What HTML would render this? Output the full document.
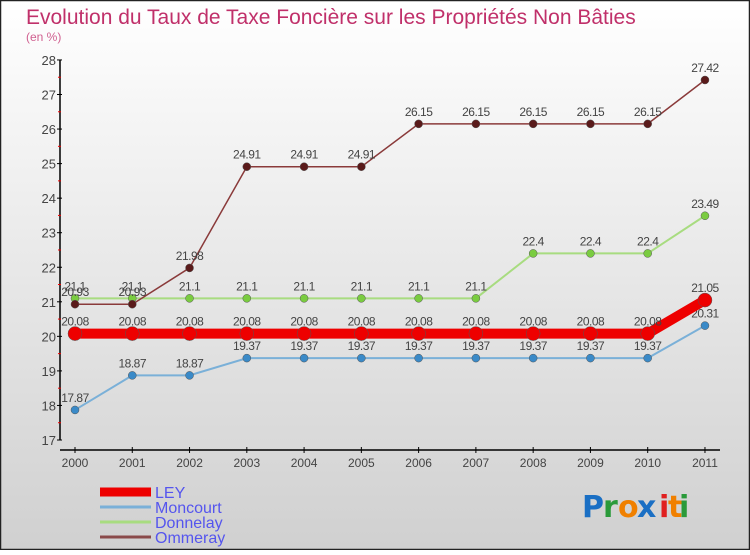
<!DOCTYPE html>
<html><head><meta charset="utf-8"><style>
body{margin:0;width:750px;height:550px;overflow:hidden;font-family:"Liberation Sans",sans-serif}
</style></head><body>
<svg id="chart" width="750" height="550" xmlns="http://www.w3.org/2000/svg" font-family="Liberation Sans, sans-serif">
<defs><linearGradient id="bg" x1="0" y1="0" x2="0" y2="1"><stop offset="0" stop-color="#ffffff"/><stop offset="1" stop-color="#d0d0d0"/></linearGradient></defs>
<rect x="0.5" y="0.5" width="749" height="549" fill="url(#bg)" stroke="#222" stroke-width="1.5"/>
<text x="26" y="24" font-size="21" fill="#c0306a">Evolution du Taux de Taxe Foncière sur les Propriétés Non Bâties</text>
<text x="26" y="41" font-size="12" fill="#d06090">(en %)</text>
<g id="axes"></g><g id="series"></g><g id="legend"></g>
<g font-size="30" font-weight="bold" font-family="DejaVu Sans, sans-serif">
<text x="582" y="517" fill="#1a6fc4">P</text><text x="603" y="517" fill="#2a9a3a">r</text><text x="618" y="517" fill="#f08000">o</text><text x="637" y="517" fill="#1a6fc4">x</text><text x="659" y="517" fill="#e02020">i</text><text x="668" y="517" fill="#f08000">t</text><text x="679" y="517" fill="#2a9a3a">i</text>
</g>
</svg>
<script>
const years=["2000","2001","2002","2003","2004","2005","2006","2007","2008","2009","2010","2011"];
const ley=[20.08,20.08,20.08,20.08,20.08,20.08,20.08,20.08,20.08,20.08,20.08,21.05];
const moncourt=[17.87,18.87,18.87,19.37,19.37,19.37,19.37,19.37,19.37,19.37,19.37,20.31];
const donnelay=[21.1,21.1,21.1,21.1,21.1,21.1,21.1,21.1,22.4,22.4,22.4,23.49];
const ommeray=[20.93,20.93,21.98,24.91,24.91,24.91,26.15,26.15,26.15,26.15,26.15,27.42];
const yTicks=[17,18,19,20,21,22,23,24,25,26,27,28];
const NS="http://www.w3.org/2000/svg";
const X=i=>75+i*57.27, Y=v=>440-(v-17)*34.55;
function mk(p,t,a){const e=document.createElementNS(NS,t);for(const k in a)e.setAttribute(k,a[k]);p.appendChild(e);return e;}
const ax=document.getElementById('axes');
let l=mk(ax,'line',{x1:60,y1:Y(28),x2:60,y2:Y(17),stroke:'#000','stroke-width':1.5});

l=mk(ax,'line',{x1:60,y1:450,x2:720,y2:450,stroke:'#000','stroke-width':1.5});

yTicks.forEach((v,i)=>{mk(ax,'line',{x1:57,x2:62,y1:Y(v),y2:Y(v),stroke:'#000'});
 if(i<yTicks.length-1)mk(ax,'line',{x1:58,x2:61,y1:Y(v+0.5),y2:Y(v+0.5),stroke:'#e00'});
 const t=mk(ax,'text',{x:56,y:Y(v)+5,'text-anchor':'end','font-size':13,fill:'#444'});t.textContent=v;
 });
years.forEach((y,i)=>{mk(ax,'line',{x1:X(i),x2:X(i),y1:447,y2:453,stroke:'#000'});
 const t=mk(ax,'text',{x:X(i),y:467,'text-anchor':'middle','font-size':12,fill:'#444'});t.textContent=y;
 });
const sg=document.getElementById('series');
function series(name,d,color,w,r,fill){const g=mk(sg,'g',{});
 
 mk(g,'polyline',{points:d.map((v,i)=>X(i)+','+Y(v)).join(' '),fill:'none',stroke:color,'stroke-width':w});
 d.forEach((v,i)=>{const c=mk(g,'circle',{cx:X(i),cy:Y(v),r:r,fill:fill,stroke:'#555','stroke-width':0.5});
  
  const t=mk(g,'text',{x:X(i),y:Y(v)-8,'text-anchor':'middle','font-size':12,fill:'#444','letter-spacing':'-0.5'});t.textContent=v;});}
series('moncourt',moncourt,'#7ab0d8',2,4,'#3a8ac8');
series('donnelay',donnelay,'#a8dc80',2,4,'#7acc40');
series('ommeray',ommeray,'#8a3a3a',1.5,4,'#5a1a1a');
series('ley',ley,'#ee0000',10,7,'#ee0000');
const lg=document.getElementById('legend');
[["LEY","#ee0000",9],["Moncourt","#7ab0d8",3],["Donnelay","#a8dc80",3],["Ommeray","#8a4a4a",3]].forEach((s,i)=>{
 const y=492+i*15;const g=mk(lg,'g',{});
 mk(g,'line',{x1:100,x2:151,y1:y,y2:y,stroke:s[1],'stroke-width':s[2]});
 const t=mk(g,'text',{x:155,y:y+6,'font-size':16,fill:'#5555ee'});t.textContent=s[0];});
</script>
</body></html>
